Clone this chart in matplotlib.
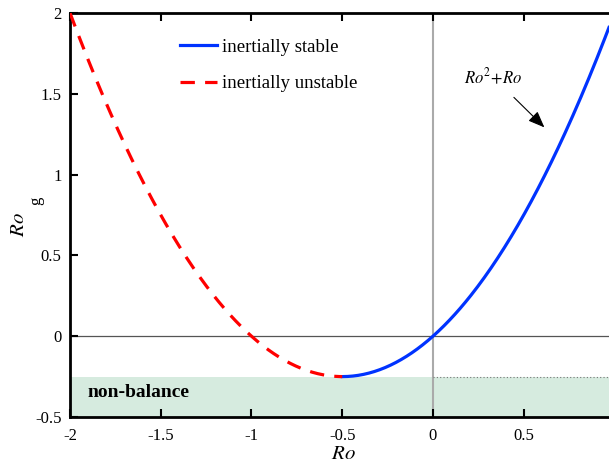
import numpy as np
import matplotlib
matplotlib.use("Agg")
import matplotlib.pyplot as plt

plt.rcParams['font.family'] = ['Liberation Serif', 'DejaVu Serif']
plt.rcParams['mathtext.fontset'] = 'stix'

# data
x_min, x_max = -2.0, 0.97
y_min, y_max = -0.5, 2.0
split_ro = -0.5          # boundary between unstable / stable branches
nonbalance_top = -0.25   # lower limit of Ro_g
xticks = [-2, -1.5, -1, -0.5, 0, 0.5]
xticklabels = ['-2', '-1.5', '-1', '-0.5', '0', '0.5']
yticks = [-0.5, 0, 0.5, 1, 1.5, 2]
yticklabels = ['-0.5', '0', '0.5', '1', '1.5', '2']
legend_labels = ['inertially stable', 'inertially unstable']

ro_unstable = np.linspace(x_min, split_ro, 200)
ro_stable = np.linspace(split_ro, x_max, 200)
rog_unstable = ro_unstable**2 + ro_unstable
rog_stable = ro_stable**2 + ro_stable

fig = plt.figure(figsize=(6.09, 4.65), dpi=100)
ax = fig.add_axes([70/609, 48/465, 1 - 70/609, (417-13)/465])

ax.axhspan(y_min, nonbalance_top, xmin=0, xmax=1, facecolor='#d6ebdf', edgecolor='none', zorder=0)
ax.axvline(0, color='#aaaaaa', lw=1.5, zorder=1)
ax.axhline(0, color='#555555', lw=0.9, zorder=1)
ax.plot([0, x_max], [nonbalance_top, nonbalance_top], color='#777777', lw=0.8, ls=(0, (1, 2)), zorder=1)

l1, = ax.plot(ro_stable, rog_stable, color='#0033ff', lw=2.3, zorder=3)
l2, = ax.plot(ro_unstable, rog_unstable, color='#ff0000', lw=2.3, ls=(0, (4.5, 3.2)), zorder=3)

ax.legend([l1, l2], legend_labels, loc='upper left', bbox_to_anchor=(0.204, 0.937),
          frameon=False, fontsize=13.5, handlelength=1.95, handletextpad=0.3,
          labelspacing=1.05, borderpad=0, borderaxespad=0)

ax.text(-1.905, -0.35, 'non-balance', fontsize=14, fontweight='bold', va='center', ha='left')

ax.annotate('', xy=(0.625, 1.28), xytext=(0.435, 1.49),
            arrowprops=dict(arrowstyle='-|>,head_length=1.0,head_width=0.4', color='black', lw=0.8))
ax.text(0.33, 1.6, r'$Ro^{2}\!+\!Ro$', fontsize=12, ha='center', va='center')

ax.set_xlim(x_min, x_max)
ax.set_ylim(y_min, y_max)
ax.set_xticks(xticks)
ax.set_xticklabels(xticklabels)
ax.set_yticks(yticks)
ax.set_yticklabels(yticklabels)
ax.tick_params(direction='in', length=6, width=1.5, labelsize=12, top=True, right=False)
ax.tick_params(axis='x', pad=8)
ax.tick_params(axis='y', pad=6)

for s in ['left', 'bottom', 'top']:
    ax.spines[s].set_linewidth(2)
ax.spines['right'].set_visible(False)

fig.text(343/609, 1 - 454/465, r'$Ro$', fontsize=15, ha='center', va='center')
fig.text(19/609, 1 - 225/465, r'$Ro$', fontsize=15, ha='center', va='center', rotation=90)
fig.text(36/609, 1 - 201/465, 'g', fontsize=12, ha='center', va='center', rotation=90)

fig.savefig('out.png', dpi=100)
